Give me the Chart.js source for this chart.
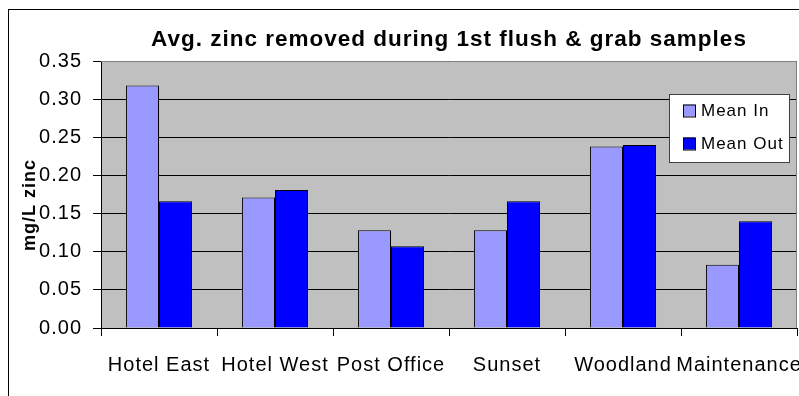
<!DOCTYPE html>
<html>
<head>
<meta charset="utf-8">
<script src="https://cdn.jsdelivr.net/npm/chart.js@4"></script>
<style>
  html, body { margin: 0; padding: 0; background: #fff; }
  #wrap { width: 799px; height: 396px; }
</style>
</head>
<body>
<div id="wrap"><canvas id="grafico"></canvas></div>
<script>
const sitios = ['Hotel East', 'Hotel West', 'Post Office', 'Sunset', 'Woodland', 'Maintenance'];
const meanIn = [0.318, 0.171, 0.128, 0.128, 0.238, 0.083];
const meanOut = [0.166, 0.181, 0.107, 0.166, 0.240, 0.140];
const ticksY = [0, 0.05, 0.10, 0.15, 0.20, 0.25, 0.30, 0.35];
const tituloY = 'mg/L zinc';

const FONTE = "Arial, 'Liberation Sans', sans-serif";

// fundo cinza da area do grafico, moldura externa, titulo do eixo Y e legenda em caixa branca
const moldura = {
  id: 'moldura',
  beforeDraw(chart) {
    const { ctx, chartArea: a } = chart;
    ctx.letterSpacing = '1px';
    ctx.save();
    ctx.fillStyle = '#C0C0C0';
    ctx.fillRect(a.left, a.top, a.right - a.left, a.bottom - a.top);
    ctx.restore();
  },
  beforeDatasetsDraw(chart) {
    const { ctx, chartArea: a } = chart;
    ctx.save();
    ctx.strokeStyle = '#808080';
    ctx.lineWidth = 1;
    ctx.beginPath();
    ctx.moveTo(a.left, a.top + 0.5);
    ctx.lineTo(a.right - 0.5, a.top + 0.5);
    ctx.lineTo(a.right - 0.5, a.bottom);
    ctx.stroke();
    ctx.restore();
  },
  afterDraw(chart) {
    const ctx = chart.ctx;
    ctx.save();
    ctx.strokeStyle = '#000';
    ctx.lineWidth = 1;
    ctx.strokeRect(8.5, 9.5, 1000, 1000);

    // titulo do eixo Y, girado
    ctx.save();
    ctx.translate(30, 205);
    ctx.rotate(-Math.PI / 2);
    ctx.font = 'bold 18px ' + FONTE;
    ctx.fillStyle = '#000';
    ctx.textAlign = 'center';
    ctx.textBaseline = 'middle';
    ctx.fillText(tituloY, 0, 0);
    ctx.restore();

    // legenda
    const x = 669.5, y = 94.5, w = 120, h = 68;
    ctx.fillStyle = '#fff';
    ctx.fillRect(x, y, w, h);
    ctx.strokeStyle = '#404040';
    ctx.strokeRect(x, y, w, h);
    ctx.font = '17px ' + FONTE;
    ctx.textBaseline = 'middle';
    chart.data.datasets.forEach((ds, i) => {
      const cy = 110.5 + i * 33;
      ctx.fillStyle = ds.backgroundColor;
      ctx.fillRect(683, cy - 6, 12, 12);
      ctx.strokeStyle = '#000';
      ctx.strokeRect(683.5, cy - 5.5, 12, 12);
      ctx.fillStyle = '#000';
      ctx.fillText(ds.label, 701, cy + 1);
    });
    ctx.restore();
  }
};

const ctx = document.getElementById('grafico').getContext('2d');
ctx.letterSpacing = '1px';

new Chart(ctx, {
  type: 'bar',
  data: {
    labels: sitios,
    datasets: [{
      label: 'Mean In',
      data: meanIn,
      backgroundColor: '#9999FF',
      borderColor: '#000',
      borderWidth: 1
    }, {
      label: 'Mean Out',
      data: meanOut,
      backgroundColor: '#0000FF',
      borderColor: '#000',
      borderWidth: 1
    }]
  },
  options: {
    responsive: true,
    maintainAspectRatio: false,
    animation: false,
    devicePixelRatio: 1,
    layout: { padding: { left: 0, right: 2, top: 0, bottom: 0 } },
    datasets: {
      bar: { categoryPercentage: 0.57, barPercentage: 1.0 }
    },
    plugins: {
      legend: { display: false },
      tooltip: { enabled: false },
      title: {
        display: true,
        fullSize: false,
        text: 'Avg. zinc removed during 1st flush & grab samples',
        color: '#000',
        font: { family: FONTE, size: 22.5, weight: 'bold' },
        padding: { top: 26, bottom: 8 }
      }
    },
    scales: {
      x: {
        offset: true,
        afterFit(scale) {
          scale.height = 68;
          scale.paddingLeft = 0;
          scale.paddingRight = 0;
        },
        grid: {
          offset: true,
          drawOnChartArea: false,
          drawTicks: true,
          tickLength: 8,
          color: '#000'
        },
        border: { color: '#000' },
        ticks: {
          autoSkip: false,
          maxRotation: 0,
          minRotation: 0,
          color: '#000',
          padding: 17,
          font: { family: FONTE, size: 20 }
        }
      },
      y: {
        min: 0,
        max: 0.35,
        afterFit(scale) {
          scale.width = 101;
          scale.paddingTop = 0;
          scale.paddingBottom = 0;
        },
        afterBuildTicks(scale) {
          scale.ticks = ticksY.map(v => ({ value: v }));
        },
        grid: {
          color: '#000',
          lineWidth: 1,
          drawTicks: true,
          tickLength: 8
        },
        border: { color: '#000' },
        ticks: {
          color: '#000',
          padding: 11,
          font: { family: FONTE, size: 20 },
          callback: v => Number(v).toFixed(2)
        }
      }
    }
  },
  plugins: [moldura]
});
</script>
</body>
</html>
